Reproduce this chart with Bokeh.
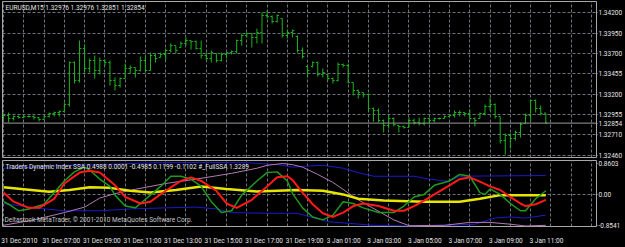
from bokeh.plotting import figure
from bokeh.models import FixedTicker, Grid, Label, Span, Range1d
from bokeh.layouts import column
from bokeh.embed import file_html
from bokeh.resources import INLINE
import numpy as np

# ---------------- data ----------------
bars = list(range(108))
high = [1.32971,1.32983,1.32947,1.32947,1.32947,1.32947,1.32947,1.32922,1.32947,1.32983,
        1.32995,1.33008,1.33105,1.33604,1.33604,1.33859,1.33811,1.33640,1.33677,1.33652,
        1.33628,1.33616,1.33409,1.33409,1.33579,1.33555,1.33531,1.33665,1.33677,1.33713,
        1.33701,1.33713,1.33762,1.33823,1.33798,1.33847,1.33896,1.33859,1.33859,1.33859,
        1.33713,1.33738,1.33701,1.33713,1.33713,1.33738,1.33871,1.33944,1.33957,1.33944,
        1.34005,1.34200,1.34224,1.34163,1.34176,1.34127,1.33981,1.33993,1.33920,1.33774,
        1.33555,1.33604,1.33604,1.33519,1.33446,1.33409,1.33592,1.33579,1.33579,1.33348,
        1.33263,1.33227,1.33214,1.33044,1.33032,1.32898,1.32947,1.32922,1.32825,1.32825,
        1.32922,1.32910,1.32922,1.32922,1.32922,1.32922,1.32922,1.32947,1.32959,1.33008,
        1.33008,1.32983,1.33020,1.32922,1.32983,1.33081,1.33166,1.33093,1.32935,1.32728,
        1.32728,1.32764,1.32862,1.32971,1.33141,1.33141,1.33068,1.32976]
low = [1.32898,1.32862,1.32886,1.32910,1.32910,1.32922,1.32898,1.32874,1.32898,1.32922,
       1.32935,1.32935,1.32983,1.33056,1.33336,1.33348,1.33470,1.33470,1.33397,1.33446,
       1.33555,1.33312,1.33251,1.33287,1.33397,1.33458,1.33409,1.33482,1.33470,1.33494,
       1.33592,1.33652,1.33616,1.33713,1.33701,1.33774,1.33798,1.33750,1.33750,1.33640,
       1.33616,1.33592,1.33592,1.33604,1.33640,1.33689,1.33701,1.33798,1.33896,1.33774,
       1.33823,1.33823,1.34127,1.34066,1.34078,1.33896,1.33884,1.33896,1.33713,1.33640,
       1.33409,1.33531,1.33421,1.33409,1.33373,1.33336,1.33360,1.33531,1.33336,1.33190,
       1.33154,1.33166,1.33008,1.32874,1.32862,1.32740,1.32788,1.32813,1.32740,1.32788,
       1.32800,1.32837,1.32825,1.32825,1.32849,1.32862,1.32898,1.32910,1.32922,1.32922,
       1.32935,1.32935,1.32886,1.32813,1.32910,1.32947,1.33008,1.32910,1.32606,1.32472,
       1.32545,1.32642,1.32679,1.32849,1.32874,1.32983,1.32947,1.32851]
open_ = [1.32935,1.32947,1.32910,1.32935,1.32922,1.32935,1.32935,1.32922,1.32898,1.32935,
         1.32971,1.32983,1.32995,1.33081,1.33592,1.33373,1.33762,1.33519,1.33616,1.33494,
         1.33616,1.33592,1.33373,1.33312,1.33397,1.33519,1.33531,1.33494,1.33616,1.33494,
         1.33677,1.33652,1.33689,1.33738,1.33798,1.33774,1.33823,1.33859,1.33847,1.33762,
         1.33677,1.33640,1.33701,1.33616,1.33689,1.33713,1.33725,1.33859,1.33920,1.33944,
         1.33896,1.33957,1.34163,1.34151,1.34090,1.34127,1.33920,1.33957,1.33908,1.33738,
         1.33543,1.33543,1.33592,1.33446,1.33446,1.33397,1.33373,1.33567,1.33555,1.33348,
         1.33251,1.33227,1.33202,1.33032,1.33008,1.32886,1.32825,1.32910,1.32825,1.32813,
         1.32800,1.32886,1.32862,1.32849,1.32910,1.32886,1.32910,1.32910,1.32935,1.32947,
         1.32983,1.32983,1.32971,1.32910,1.32910,1.32971,1.33056,1.33081,1.32935,1.32642,
         1.32703,1.32667,1.32740,1.32849,1.32947,1.33129,1.33032,1.32976]
close = [1.32947,1.32910,1.32935,1.32922,1.32935,1.32935,1.32922,1.32898,1.32935,1.32971,
         1.32983,1.32995,1.33081,1.33592,1.33373,1.33762,1.33519,1.33616,1.33494,1.33616,
         1.33592,1.33373,1.33312,1.33397,1.33519,1.33531,1.33494,1.33616,1.33494,1.33677,
         1.33640,1.33689,1.33738,1.33798,1.33738,1.33823,1.33859,1.33847,1.33762,1.33677,
         1.33640,1.33713,1.33616,1.33689,1.33713,1.33725,1.33859,1.33920,1.33944,1.33896,
         1.33957,1.34163,1.34151,1.34090,1.34163,1.33920,1.33957,1.33981,1.33738,1.33665,
         1.33494,1.33592,1.33446,1.33470,1.33397,1.33373,1.33567,1.33555,1.33348,1.33251,
         1.33227,1.33202,1.33032,1.33008,1.32886,1.32825,1.32910,1.32837,1.32813,1.32800,
         1.32886,1.32862,1.32849,1.32910,1.32886,1.32910,1.32910,1.32935,1.32947,1.32983,
         1.32983,1.32971,1.32910,1.32886,1.32971,1.33056,1.33081,1.32935,1.32642,1.32703,
         1.32667,1.32740,1.32837,1.32947,1.33129,1.33032,1.32971,1.32854]

price_ticks = [1.34200, 1.33950, 1.33700, 1.33455, 1.33200, 1.32955, 1.32710, 1.32460]
price_labels = ["1.34200", "1.33950", "1.33700", "1.33455", "1.33200", "1.32955", "1.32710", "1.32460"]
bid_price = 1.32854
bid_label = "1.32854"
symbol_text = "EURUSD,M15  1.32976 1.32976 1.32851 1.32854"

time_tick_bars = [0, 8, 16, 24, 32, 40, 48, 56, 64, 72, 80, 88, 96, 104]
time_labels = ["31 Dec 2010", "31 Dec 07:00", "31 Dec 09:00", "31 Dec 11:00", "31 Dec 13:00",
               "31 Dec 15:00", "31 Dec 17:00", "31 Dec 19:00", "3 Jan 01:00", "3 Jan 03:00",
               "3 Jan 05:00", "3 Jan 07:00", "3 Jan 09:00", "3 Jan 11:00"]
grid_bars = list(range(0, 120, 4))

ind_title = "Traders Dynamic Index SSA 0.4988 0.0001 -0.4985 0.1199 -0.1102  #_FullSSA 1.3289"
copyright_text = "Deltastock MetaTrader, \u00a9 2001-2010 MetaQuotes Software Corp."
ind_ticks = [0.8603, 0.0, -0.8541]
ind_labels = ["0.8603", "0.00", "-0.8541"]

green_x = [0,1,3,5,8,10,12,14,16,17,19,21,22,24,26,27,29,31,33,35,37,39,41,43,45,47,50,52,54,56,
           57,59,61,63,65,67,69,71,74,77,79,81,83,85,88,90,92,94,95,96,98,100,102,103,105,107]
green_y = [-0.20,-0.27,-0.45,-0.40,-0.27,0.05,0.37,0.62,0.75,0.67,0.42,0.22,-0.02,-0.32,-0.37,
           -0.25,-0.02,0.22,0.50,0.50,0.42,0.22,-0.20,-0.50,-0.45,-0.02,0.37,0.60,0.62,0.37,
           0.03,-0.37,-0.62,-0.70,-0.57,-0.20,-0.25,-0.37,-0.50,-0.50,-0.32,-0.07,0.0,0.25,
           0.37,0.55,0.50,0.05,0.0,0.15,0.0,-0.25,-0.45,-0.45,-0.12,0.10]
red_x = [0,2,5,7,10,12,15,17,19,22,24,27,29,32,35,37,39,42,44,46,49,52,54,56,57,59,61,63,65,67,
         69,71,74,77,79,81,83,85,88,90,92,94,96,98,100,102,103,105,107]
red_y = [0.05,-0.20,-0.37,-0.37,-0.12,0.30,0.60,0.65,0.60,0.25,-0.07,-0.25,-0.20,0.10,0.37,0.47,
         0.37,0.10,-0.25,-0.37,-0.15,0.22,0.47,0.50,0.40,0.05,-0.27,-0.52,-0.62,-0.50,-0.32,
         -0.25,-0.32,-0.45,-0.45,-0.32,-0.17,0.0,0.25,0.42,0.47,0.35,0.22,0.12,-0.07,-0.25,
         -0.32,-0.27,-0.15]
yellow_x = [0,5,9,13,17,21,25,29,34,39,44,50,54,58,63,67,70,75,83,90,94,98,103,107]
yellow_y = [0.20,0.13,0.07,0.12,0.20,0.18,0.10,0.05,0.12,0.22,0.15,0.08,0.10,0.12,0.10,0.0,
            -0.12,-0.17,-0.20,-0.20,-0.12,-0.02,-0.02,-0.02]
upper_x = [0,6,12,19,30,40,48,54,57,60,63,67,70,73,81,84,87,88,90,107]
upper_y = [0.72,0.75,0.80,0.82,0.87,0.88,0.87,0.82,0.75,0.78,0.80,0.72,0.60,0.50,0.50,0.42,0.37,
           0.37,0.50,0.52]
lower_x = [0,6,12,19,25,32,38,42,45,52,58,64,73,80,87,93,97,100,103,107]
lower_y = [-0.25,-0.37,-0.45,-0.45,-0.40,-0.37,-0.35,-0.40,-0.50,-0.52,-0.52,-0.75,-0.85,-0.87,
           -0.85,-0.82,-0.65,-0.62,-0.65,-0.57]
violet_x = [0,6,12,16,19,22,26,32,38,45,50,52,55,57,59,62,65,70,77,80,87,92,96,100,103,107]
violet_y = [-0.85,-0.70,-0.50,-0.35,-0.10,0.02,0.14,0.30,0.42,0.58,0.72,0.80,0.85,0.82,0.75,0.55,
            0.33,-0.15,-0.70,-0.86,-0.85,-0.77,-0.77,-0.82,-0.87,-0.85]

# ---------------- styling ----------------
W = 625
BG = "black"
GRID = "#6c737a"
TXT = "#e6e6e6"
FONT = "Roboto"
FS = "6.5px"
BAR = "#19b419"
OUTLINE = "#a8a8a8"
x0, x1 = -0.2, 117.0

def base_fig(h, yr, bottom, top_border, bottom_border):
    p = figure(width=W, height=h, x_range=Range1d(x0, x1), y_range=yr,
               output_backend="svg", toolbar_location=None,
               x_axis_location="below" if bottom else None, y_axis_location="right",
               min_border_left=2, min_border_right=24, min_border_top=top_border,
               min_border_bottom=bottom_border,
               background_fill_color=BG, border_fill_color=BG,
               outline_line_color=OUTLINE, outline_line_width=1)
    p.grid.visible = False
    p.add_layout(Grid(dimension=0, ticker=FixedTicker(ticks=grid_bars),
                      grid_line_color=GRID, grid_line_dash="3 2", grid_line_width=1))
    for ax in p.yaxis:
        ax.axis_line_color = None
        ax.major_tick_out = 1
        ax.major_tick_in = 0
        ax.major_tick_line_color = OUTLINE
        ax.minor_tick_line_color = None
        ax.major_label_standoff = 1
        ax.major_label_text_color = TXT
        ax.major_label_text_font = FONT
        ax.major_label_text_font_size = FS
    return p

# ---- price pane ----
p1 = base_fig(160, Range1d(1.324356, 1.343339), False, 1, 3)
scale_ticks = price_ticks + [bid_price]
scale_labels = price_labels + [bid_label]
p1.yaxis.ticker = FixedTicker(ticks=scale_ticks)
p1.yaxis.major_label_overrides = {t: l for t, l in zip(scale_ticks, scale_labels)}
p1.add_layout(Grid(dimension=1, ticker=FixedTicker(ticks=price_ticks),
                   grid_line_color=GRID, grid_line_dash="3 2", grid_line_width=1))
p1.add_layout(Span(location=bid_price, dimension="width", line_color="#9a9a9a", line_width=1))

bx = np.array(bars, dtype=float)
tick = 0.35
p1.segment(x0=bx, y0=low, x1=bx, y1=high, line_color=BAR, line_width=1)
p1.segment(x0=bx - tick, y0=open_, x1=bx, y1=open_, line_color=BAR, line_width=1)
p1.segment(x0=bx, y0=close, x1=bx + tick, y1=close, line_color=BAR, line_width=1)

p1.add_layout(Label(x=x0, y=1.343339, x_offset=3, y_offset=-2, text=symbol_text,
                    text_color=TXT, text_font=FONT, text_font_size=FS, text_baseline="top"))

# ---- indicator pane ----
p2 = base_fig(87, Range1d(-0.883, 0.933), True, 0, 14)
p2.yaxis.ticker = FixedTicker(ticks=ind_ticks)
p2.yaxis.major_label_overrides = {t: l for t, l in zip(ind_ticks, ind_labels)}
p2.add_layout(Grid(dimension=1, ticker=FixedTicker(ticks=[0.0]),
                   grid_line_color=GRID, grid_line_dash="3 2", grid_line_width=1))

p2.line(upper_x, upper_y, line_color="#1a1acc", line_width=1)
p2.line(lower_x, lower_y, line_color="#1a1acc", line_width=1)
p2.line(violet_x, violet_y, line_color="#b27ab4", line_width=1)
p2.line(yellow_x, yellow_y, line_color="#e6e600", line_width=2.5)
p2.line(green_x, green_y, line_color="#1f9a1f", line_width=1.5)
p2.line(red_x, red_y, line_color="#ff1a1a", line_width=2)

# time axis: labels start at their bar (MT4 style) -> centre them half a label to the right
char_px, px_per_bar = 2.9, 599 / (x1 - x0)
time_pos = [round(b + len(l) * char_px / 2 / px_per_bar, 3) for b, l in zip(time_tick_bars, time_labels)]
xa = p2.xaxis[0]
xa.ticker = FixedTicker(ticks=time_pos)
xa.major_label_overrides = {t: l for t, l in zip(time_pos, time_labels)}
xa.axis_line_color = None
xa.major_tick_line_color = None
xa.minor_tick_line_color = None
xa.major_label_standoff = 4
xa.major_label_text_color = TXT
xa.major_label_text_font = FONT
xa.major_label_text_font_size = FS

p2.add_layout(Label(x=x0, y=0.933, x_offset=3, y_offset=-2, text=ind_title,
                    text_color=TXT, text_font=FONT, text_font_size=FS, text_baseline="top"))
p2.add_layout(Label(x=x0, y=-0.883, x_offset=2, y_offset=3, text=copyright_text,
                    text_color="#c8c8c8", text_font=FONT, text_font_size=FS, text_baseline="bottom"))

layout = column(p1, p2, spacing=0, background=BG)
open("out.html", "w").write(file_html(layout, INLINE))
